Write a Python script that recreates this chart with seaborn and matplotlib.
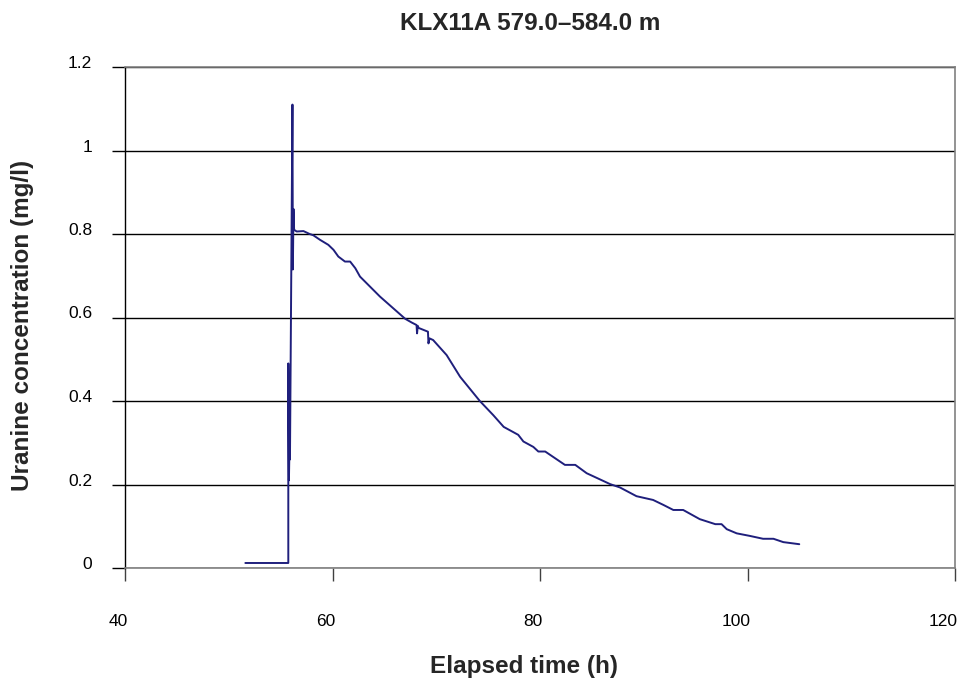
import matplotlib
matplotlib.use("Agg")
import matplotlib.pyplot as plt
import matplotlib.transforms as mtransforms
import seaborn as sns
import pandas as pd

# ---- data ----
elapsed_h = [51.6, 55.74, 55.74, 55.80, 55.86, 55.90, 56.14, 56.18, 56.24, 56.30,
             56.55, 57.2, 57.8, 58.15, 58.8, 59.6, 60.1, 60.56, 61.2, 61.7,
             62.2, 62.65, 64.58, 67.0, 67.63, 68.1, 68.15, 68.22, 68.3, 69.2,
             69.25, 69.35, 69.7, 71.0, 72.3, 74.2, 75.5, 76.5, 77.9, 78.4,
             79.36, 79.84, 80.5, 82.4, 83.4, 84.5, 85.8, 86.75, 87.7, 89.3,
             90.9, 91.9, 92.85, 93.8, 95.4, 96.9, 97.5, 98.0, 98.96, 100.2,
             101.5, 102.5, 103.45, 104.99]
uranine_mgl = [0.012, 0.012, 0.49, 0.21, 0.30, 0.26, 1.11, 0.715, 0.86, 0.81,
               0.806, 0.807, 0.800, 0.797, 0.786, 0.774, 0.762, 0.746, 0.734, 0.734,
               0.718, 0.698, 0.650, 0.597, 0.588, 0.582, 0.562, 0.580, 0.575, 0.566,
               0.538, 0.550, 0.546, 0.510, 0.458, 0.400, 0.366, 0.338, 0.319, 0.303,
               0.290, 0.279, 0.279, 0.247, 0.247, 0.227, 0.212, 0.201, 0.193, 0.172,
               0.163, 0.151, 0.139, 0.139, 0.117, 0.105, 0.105, 0.093, 0.083, 0.077,
               0.070, 0.070, 0.062, 0.057]

x_ticks = [40, 60, 80, 100, 120]
y_ticks = [0, 0.2, 0.4, 0.6, 0.8, 1.0, 1.2]
y_tick_labels = ["0", "0.2", "0.4", "0.6", "0.8", "1", "1.2"]

title = "KLX11A 579.0\u2013584.0 m"
x_label = "Elapsed time (h)"
y_label = "Uranine concentration (mg/l)"

df = pd.DataFrame({"t": elapsed_h, "c": uranine_mgl})

sns.set_theme(style="white")
plt.rcParams["font.family"] = ["Liberation Sans", "DejaVu Sans"]

fig = plt.figure(figsize=(9.61, 6.82), dpi=100)
ax = fig.add_axes([125 / 961, 1 - 568 / 682, 830 / 961, 501 / 682])

sns.lineplot(data=df, x="t", y="c", sort=False, estimator=None,
             color="#1f1f7c", linewidth=1.4, ax=ax)

ax.set_xlim(40, 120)
ax.set_ylim(0, 1.2)
ax.set_xticks(x_ticks)
ax.set_xticklabels([str(v) for v in x_ticks])
ax.set_yticks(y_ticks)
ax.set_yticklabels(y_tick_labels)

ax.yaxis.grid(True, color="black", linewidth=1.0)
ax.xaxis.grid(False)
ax.set_axisbelow(True)

for side in ["top", "right", "bottom"]:
    ax.spines[side].set_visible(True)
    ax.spines[side].set_color("#808080")
    ax.spines[side].set_linewidth(1.2)
ax.spines["left"].set_color("black")
ax.spines["left"].set_linewidth(1.0)

ax.tick_params(axis="x", direction="out", length=9, width=1.0, color="#404040",
               pad=24, labelsize=12.5, labelcolor="black", bottom=True)
ax.tick_params(axis="y", direction="out", length=9.5, width=1.0, color="black",
               pad=14, labelsize=12.5, labelcolor="black", left=True)

# y tick labels sit slightly above their gridlines in the reference
y_off = mtransforms.ScaledTranslation(0, 5 / 100, fig.dpi_scale_trans)
for lbl in ax.get_yticklabels():
    lbl.set_transform(lbl.get_transform() + y_off)

# x tick labels are right-aligned just past their tick in the reference
x_off = mtransforms.ScaledTranslation(3 / 100, 0, fig.dpi_scale_trans)
for lbl in ax.get_xticklabels():
    lbl.set_horizontalalignment("right")
    lbl.set_transform(lbl.get_transform() + x_off)

ax.set_xlabel(x_label, fontsize=17.5, fontweight="bold")
ax.xaxis.label.set_va("center")
ax.xaxis.set_label_coords((523.5 - 125) / 830, (568 - 667) / 501)

ax.set_ylabel(y_label, fontsize=17.5, fontweight="bold")
ax.yaxis.label.set_va("center")
ax.yaxis.set_label_coords((23 - 125) / 830, (568 - 325) / 501)

fig.text(530 / 961, 1 - 23 / 682, title, fontsize=17.5, fontweight="bold",
         ha="center", va="center")

fig.savefig("out.png", dpi=100, facecolor="white")
